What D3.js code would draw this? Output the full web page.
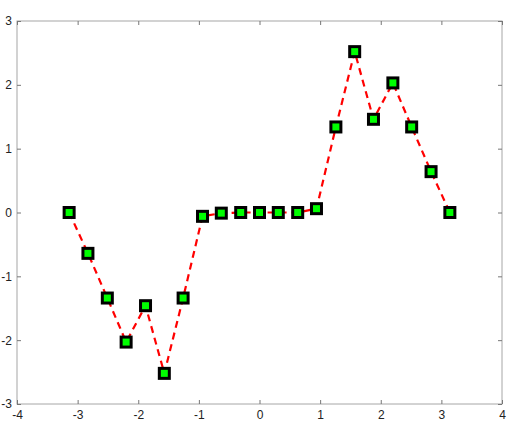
<!DOCTYPE html>
<html>
<head>
<meta charset="utf-8">
<script src="https://cdn.jsdelivr.net/npm/d3@7"></script>
<style>
body { margin: 0; background: #fff; }
text { font-family: "Liberation Sans", Arial, sans-serif; font-size: 12px; fill: #222; }
</style>
</head>
<body>
<div id="chart"></div>
<script>
// values
var xVals = [-3.14, -2.83, -2.51, -2.2, -1.88, -1.57, -1.26, -0.94, -0.63, -0.31, 0,
             0.31, 0.63, 0.94, 1.26, 1.57, 1.88, 2.2, 2.51, 2.83, 3.14];
var yVals = [0, -0.64, -1.34, -2.03, -1.46, -2.52, -1.34, -0.06, -0.01, 0, 0,
             0, 0, 0.06, 1.34, 2.52, 1.46, 2.03, 1.34, 0.64, 0];
var xTicks = [-4, -3, -2, -1, 0, 1, 2, 3, 4];
var yTicks = [-3, -2, -1, 0, 1, 2, 3];

var svgWidth = 516, svgHeight = 431;
var margin = {top: 21, right: 14, bottom: 27, left: 17};
var width = svgWidth - margin.left - margin.right;
var height = svgHeight - margin.top - margin.bottom;

var svg = d3.select("#chart").append("svg")
  .attr("width", svgWidth)
  .attr("height", svgHeight);

var g = svg.append("g")
  .attr("transform", `translate(${margin.left}, ${margin.top})`);

var x = d3.scaleLinear().domain([-4, 4]).range([0, width]);
var y = d3.scaleLinear().domain([-3, 3]).range([height, 0]);

// frame
g.append("rect")
  .attr("width", width).attr("height", height)
  .attr("fill", "none").attr("stroke", "#a6a6a6").attr("stroke-width", 1);

var fmt = d => String(d);  // plain hyphen minus like the original

function styleAxis(sel) {
  sel.select(".domain").remove();
  sel.selectAll(".tick line").attr("stroke", "#777");
}

// bottom / left with labels, ticks pointing inward
g.append("g").attr("transform", `translate(0, ${height})`)
  .call(d3.axisBottom(x).tickValues(xTicks).tickFormat(fmt).tickSizeInner(-4).tickSizeOuter(0).tickPadding(6))
  .call(styleAxis);
g.append("g")
  .call(d3.axisLeft(y).tickValues(yTicks).tickFormat(fmt).tickSizeInner(-4).tickSizeOuter(0).tickPadding(5))
  .call(styleAxis);
// top / right ticks only
g.append("g")
  .call(d3.axisTop(x).tickValues(xTicks).tickSizeInner(-4).tickSizeOuter(0).tickFormat(""))
  .call(styleAxis);
g.append("g").attr("transform", `translate(${width}, 0)`)
  .call(d3.axisRight(y).tickValues(yTicks).tickSizeInner(-4).tickSizeOuter(0).tickFormat(""))
  .call(styleAxis);

g.selectAll(".tick text").style("font-family", "Liberation Sans, Arial, sans-serif")
  .style("font-size", "12px").attr("fill", "#222");

var pts = xVals.map((v, i) => ({x: v, y: yVals[i]}));

var line = d3.line().x(d => x(d.x)).y(d => y(d.y));
g.append("path").datum(pts)
  .attr("d", line)
  .attr("fill", "none")
  .attr("stroke", "#ff0000")
  .attr("stroke-width", 2.2)
  .attr("stroke-dasharray", "7,5");

var s = 10;
g.selectAll("rect.pt").data(pts).enter().append("rect")
  .attr("class", "pt")
  .attr("x", d => x(d.x) - s / 2)
  .attr("y", d => y(d.y) - s / 2)
  .attr("width", s).attr("height", s)
  .attr("fill", "#00ff00")
  .attr("stroke", "#000")
  .attr("stroke-width", 3);
</script>
</body>
</html>
